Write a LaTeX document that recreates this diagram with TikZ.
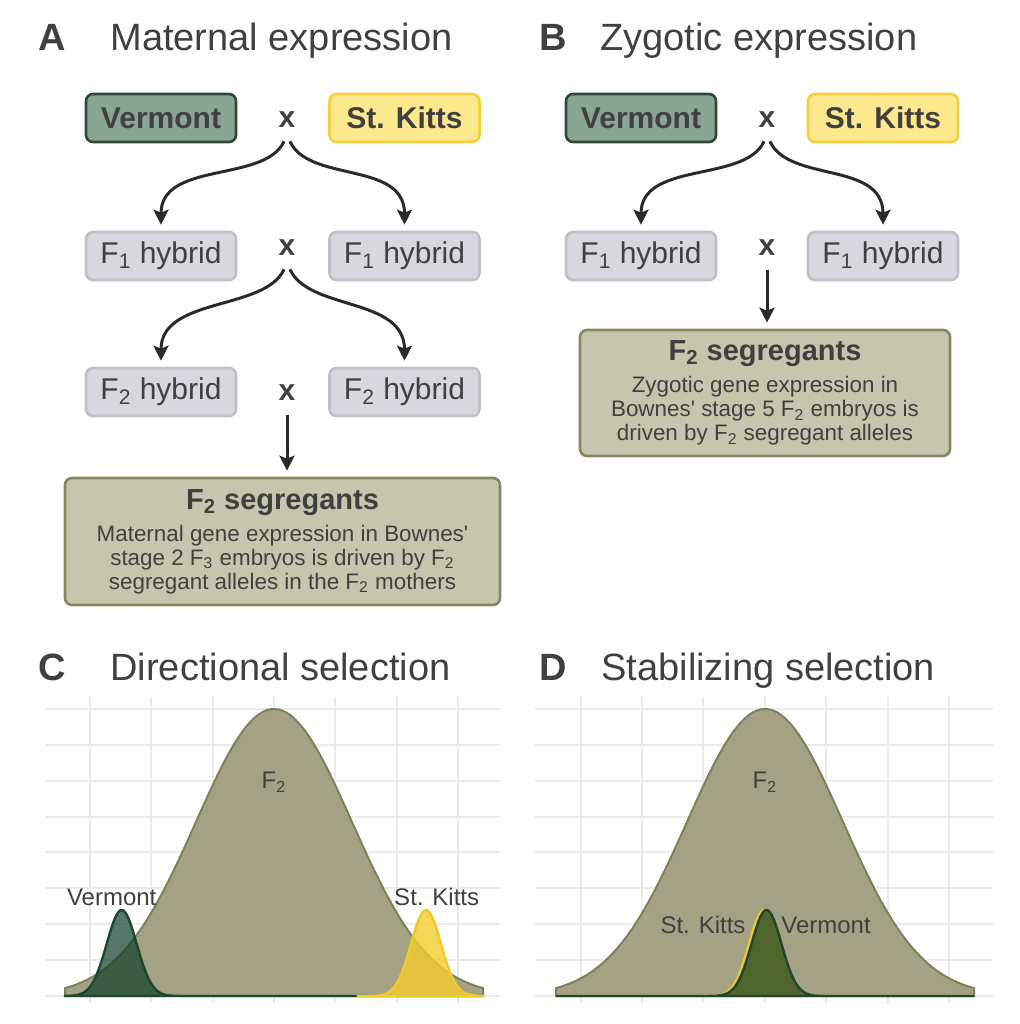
\documentclass[tikz,border=0pt]{standalone}
\usepackage{fontspec}
\setmainfont{Liberation Sans}
\usetikzlibrary{arrows.meta}

\definecolor{txtgrey}{HTML}{404040}
\definecolor{vtfill}{HTML}{8AA593}
\definecolor{vtline}{HTML}{2B4A3A}
\definecolor{skfill}{HTML}{FCE88D}
\definecolor{skline}{HTML}{F5CF3F}
\definecolor{hybfill}{HTML}{D5D8DC}
\definecolor{hybline}{HTML}{BDC0C4}
\definecolor{segfill}{HTML}{C6C5AD}
\definecolor{segline}{HTML}{86875E}
\definecolor{gridgrey}{HTML}{EBEBEB}
\definecolor{ftwofill}{HTML}{A3A285}
\definecolor{ftwoline}{HTML}{7E8258}
\definecolor{vtcurvefill}{HTML}{103E27}
\definecolor{vtcurveline}{HTML}{1F4631}
\definecolor{skcurvefill}{HTML}{F5CD2E}
\definecolor{skcurveline}{HTML}{F0C92C}
\definecolor{arrgrey}{HTML}{2A2A2A}

\tikzset{
  paneltag/.style={anchor=base west, inner sep=0pt, text=txtgrey, font=\fontsize{19}{23}\selectfont\bfseries},
  paneltitle/.style={anchor=base west, inner sep=0pt, text=txtgrey, font=\fontsize{19}{23}\selectfont},
  vtbox/.style={draw=vtline, fill=vtfill, rounded corners=3.5pt, line width=1.3pt, minimum width=75pt, minimum height=24pt, text=txtgrey, font=\fontsize{15}{18}\selectfont\bfseries},
  skbox/.style={vtbox, draw=skline, fill=skfill},
  hybbox/.style={draw=hybline, fill=hybfill, rounded corners=3.5pt, line width=1.3pt, minimum width=75pt, minimum height=24pt, text=txtgrey, font=\fontsize{15}{18}\selectfont},
  segbox/.style={draw=segline, fill=segfill, rounded corners=3.5pt, line width=1.3pt, align=center, text=txtgrey, font=\fontsize{11.2}{12}\selectfont},
  cross/.style={text=txtgrey, font=\fontsize{15}{18}\selectfont\bfseries},
  arr/.style={draw=arrgrey, line width=1.5pt, -{Stealth[length=7.5pt, width=7.5pt, inset=1.5pt]}, shorten <=3.5pt, shorten >=3pt},
  gridline/.style={draw=gridgrey, line width=1pt},
  ftwocurve/.style={fill=ftwofill, draw=ftwoline, line width=1pt},
  vtcurve/.style={fill=vtcurvefill, fill opacity=0.7, draw=vtcurveline, line width=1.2pt},
  skcurve/.style={fill=skcurvefill, fill opacity=0.8, draw=skcurveline, line width=1.2pt},
  plotlabel/.style={text=txtgrey, font=\fontsize{12}{14}\selectfont}
}

\newcommand{\segtitle}{{\fontsize{14.5}{17}\selectfont\bfseries F\textsubscript{2} segregants}}

\begin{document}
\begin{tikzpicture}[x=0.5pt, y=-0.5pt]
  \useasboundingbox (0,0) rectangle (1020,1024);

  % titles
  \node[paneltag] (tagA) at (38,50) {A};
  \node[paneltitle] (titleA) at (110,50) {Maternal expression};
  \node[paneltag] (tagB) at (539,50) {B};
  \node[paneltitle] (titleB) at (600,50) {Zygotic expression};
  \node[paneltag] (tagC) at (38,680) {C};
  \node[paneltitle] (titleC) at (110,680) {Directional selection};
  \node[paneltag] (tagD) at (539,680) {D};
  \node[paneltitle] (titleD) at (601,680) {Stabilizing selection};

  % panel A
  \node[vtbox] (vtA) at (161,118) {Vermont};
  \node[cross] (crA1) at (287,120) {x};
  \node[skbox] (skA) at (404.5,118) {St. Kitts};

  \node[hybbox] (hybA1) at (161,256) {F\textsubscript{1} hybrid};
  \node[cross] (crA2) at (287,248) {x};
  \node[hybbox] (hybA2) at (404.5,256) {F\textsubscript{1} hybrid};

  \node[hybbox] (hybA3) at (161,392) {F\textsubscript{2} hybrid};
  \node[cross] (crA3) at (287,393) {x};
  \node[hybbox] (hybA4) at (404.5,392) {F\textsubscript{2} hybrid};

  \node[segbox, minimum width=217.5pt, minimum height=63.5pt] (segA) at (282.5,541.5)
    {\segtitle\\[4pt]
     Maternal gene expression in Bownes\textquotesingle\\
     stage 2 F\textsubscript{3} embryos is driven by F\textsubscript{2}\\
     segregant alleles in the F\textsubscript{2} mothers};

  \draw[arr] (crA1.south) .. controls +(-22,48) and +(0,-70) .. (hybA1.north);
  \draw[arr] (crA1.south) .. controls +(22,48) and +(0,-70) .. (hybA2.north);
  \draw[arr] (crA2.south) .. controls +(-22,48) and +(0,-70) .. (hybA3.north);
  \draw[arr] (crA2.south) .. controls +(22,48) and +(0,-70) .. (hybA4.north);
  \draw[arr] (crA3.south) -- (crA3.south |- segA.north);

  % panel B
  \node[vtbox] (vtB) at (641,118) {Vermont};
  \node[cross] (crB1) at (767,120) {x};
  \node[skbox] (skB) at (883,118) {St. Kitts};

  \node[hybbox] (hybB1) at (641,256) {F\textsubscript{1} hybrid};
  \node[cross] (crB2) at (767,248) {x};
  \node[hybbox] (hybB2) at (883,256) {F\textsubscript{1} hybrid};

  \node[segbox, minimum width=185pt, minimum height=63pt] (segB) at (765,393)
    {\segtitle\\[4pt]
     Zygotic gene expression in\\
     Bownes\textquotesingle{} stage 5 F\textsubscript{2} embryos is\\
     driven by F\textsubscript{2} segregant alleles};

  \draw[arr] (crB1.south) .. controls +(-22,48) and +(0,-70) .. (hybB1.north);
  \draw[arr] (crB1.south) .. controls +(22,48) and +(0,-70) .. (hybB2.north);
  \draw[arr] (crB2.south) -- (crB2.south |- segB.north);

  % panel C grid
  \draw[gridline] (45,709) -- (500,709);
  \draw[gridline] (45,745) -- (500,745);
  \draw[gridline] (45,781) -- (500,781);
  \draw[gridline] (45,817) -- (500,817);
  \draw[gridline] (45,852) -- (500,852);
  \draw[gridline] (45,888) -- (500,888);
  \draw[gridline] (45,924) -- (500,924);
  \draw[gridline] (45,960) -- (500,960);
  \draw[gridline] (45,996) -- (500,996);
  \draw[gridline] (90,697) -- (90,1003);
  \draw[gridline] (151,697) -- (151,1003);
  \draw[gridline] (213,697) -- (213,1003);
  \draw[gridline] (274,697) -- (274,1003);
  \draw[gridline] (335,697) -- (335,1003);
  \draw[gridline] (397,697) -- (397,1003);
  \draw[gridline] (458,697) -- (458,1003);

  % panel C curves
  \filldraw[ftwocurve] (65,996) -- plot[domain=65:483, samples=120]
    (\x,{996-287*exp(-0.5*((\x-274)/78)*((\x-274)/78))}) -- (483,996) -- cycle;
  \filldraw[vtcurve] (65,996) -- plot[domain=65:190, samples=80]
    (\x,{996-86*exp(-0.5*((\x-121.7)/15)*((\x-121.7)/15))}) -- (483,996) -- cycle;
  \filldraw[skcurve] (358,996) -- plot[domain=358:483, samples=80]
    (\x,{996-86*exp(-0.5*((\x-426)/15)*((\x-426)/15))}) -- (483,996) -- cycle;

  \node[plotlabel] (ftwoC) at (274,782) {F\textsubscript{2}};
  \node[plotlabel] (vtC) at (111.7,897) {Vermont};
  \node[plotlabel] (skC) at (436.7,897) {St. Kitts};

  % panel D grid
  \draw[gridline] (535,709) -- (993,709);
  \draw[gridline] (535,745) -- (993,745);
  \draw[gridline] (535,781) -- (993,781);
  \draw[gridline] (535,817) -- (993,817);
  \draw[gridline] (535,852) -- (993,852);
  \draw[gridline] (535,888) -- (993,888);
  \draw[gridline] (535,924) -- (993,924);
  \draw[gridline] (535,960) -- (993,960);
  \draw[gridline] (535,996) -- (993,996);
  \draw[gridline] (581,697) -- (581,1003);
  \draw[gridline] (642,697) -- (642,1003);
  \draw[gridline] (703,697) -- (703,1003);
  \draw[gridline] (765,697) -- (765,1003);
  \draw[gridline] (826,697) -- (826,1003);
  \draw[gridline] (888,697) -- (888,1003);
  \draw[gridline] (949,697) -- (949,1003);

  % panel D curves
  \filldraw[ftwocurve] (556,996) -- plot[domain=556:974, samples=120]
    (\x,{996-287*exp(-0.5*((\x-765)/78)*((\x-765)/78))}) -- (974,996) -- cycle;
  \filldraw[skcurve] (556,996) -- (700,996) -- plot[domain=700:828, samples=80]
    (\x,{996-86*exp(-0.5*((\x-764)/15)*((\x-764)/15))}) -- (974,996) -- cycle;
  \filldraw[vtcurve] (556,996) -- (702,996) -- plot[domain=702:830, samples=80]
    (\x,{996-86*exp(-0.5*((\x-766.5)/15)*((\x-766.5)/15))}) -- (974,996) -- cycle;

  \node[plotlabel] (ftwoD) at (765,782) {F\textsubscript{2}};
  \node[plotlabel] (skD) at (703,925) {St. Kitts};
  \node[plotlabel] (vtD) at (826,925) {Vermont};
\end{tikzpicture}
\end{document}
